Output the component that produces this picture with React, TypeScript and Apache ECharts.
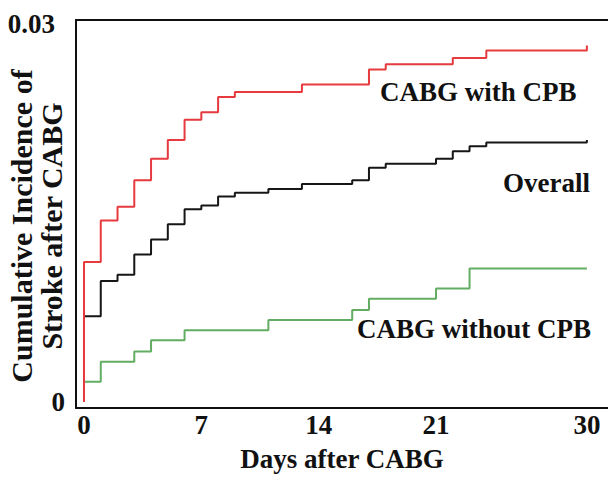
import React, { useEffect, useRef } from "react";
import * as echarts from "echarts";

// Days after CABG at which each cumulative incidence step occurs
const withCpbDays = [0, 0, 1, 2, 3, 4, 5, 6, 7, 8, 9, 13, 17, 18, 22, 24, 30];
const withCpbValues = [0, 0.0111, 0.0144, 0.0155, 0.0176, 0.0193, 0.0208, 0.0224, 0.023, 0.0242, 0.0246, 0.0252, 0.0264, 0.0268, 0.0273, 0.0279, 0.0283];

const overallDays = [0, 0, 1, 2, 3, 4, 5, 6, 7, 8, 9, 11, 13, 16, 17, 18, 21, 22, 23, 24, 30];
const overallValues = [0, 0.0068, 0.0096, 0.0101, 0.0117, 0.0129, 0.0141, 0.0153, 0.0156, 0.0163, 0.0166, 0.0169, 0.0173, 0.0176, 0.0186, 0.0189, 0.0193, 0.0199, 0.0203, 0.0206, 0.0208];

const withoutCpbDays = [0, 0, 1, 3, 4, 6, 11, 16, 17, 21, 23, 30];
const withoutCpbValues = [0, 0.0016, 0.0032, 0.004, 0.0049, 0.0057, 0.0065, 0.0073, 0.0082, 0.009, 0.0106, 0.0106];

const xTickLabels = [0, 7, 14, 21, 30];
const yTickLabels = [0, 0.03];

const seriesNames = ["CABG with CPB", "Overall", "CABG without CPB"];

const FONT = '"Liberation Serif", "Times New Roman", serif';

function pairs(days: number[], values: number[]) {
  return days.map((d, i) => [d, values[i]]);
}

export default function App() {
  const ref = useRef<HTMLDivElement>(null);

  useEffect(() => {
    if (!ref.current) return;
    const chart = echarts.init(ref.current, undefined, { renderer: "svg" });
    const axisLineStyle = { color: "#111", width: 2 };
    const lineSeries = (name: string, data: number[][], color: string, z: number) => ({
      name,
      type: "line",
      step: "end",
      data,
      showSymbol: false,
      symbol: "none",
      xAxisIndex: 0,
      yAxisIndex: 0,
      z,
      lineStyle: { color, width: 2 },
      itemStyle: { color },
    });
    chart.setOption({
      animation: false,
      backgroundColor: "#ffffff",
      grid: { left: 76, right: 0, top: 20, bottom: 69, containLabel: false, outerBoundsMode: "none" },
      xAxis: [
        {
          type: "value",
          min: -0.477,
          max: 31.26,
          axisLine: { show: true, onZero: false, lineStyle: axisLineStyle },
          axisTick: { show: false },
          splitLine: { show: false },
          axisLabel: {
            customValues: xTickLabels,
            fontFamily: FONT,
            fontSize: 27,
            fontWeight: "bold",
            color: "#111",
            margin: 3,
          },
          name: "Days after CABG",
          nameLocation: "middle",
          nameGap: 37,
          nameMoveOverlap: false,
          nameTextStyle: { fontFamily: FONT, fontSize: 27, fontWeight: "bold", color: "#111" },
        },
        {
          type: "value",
          position: "top",
          min: -0.477,
          max: 31.26,
          axisLine: { show: true, onZero: false, lineStyle: axisLineStyle },
          axisTick: { show: false },
          axisLabel: { show: false },
          splitLine: { show: false },
        },
      ],
      yAxis: {
        type: "value",
        min: -0.00048,
        max: 0.03032,
        axisLine: { show: true, onZero: false, lineStyle: axisLineStyle },
        axisTick: { show: false },
        splitLine: { show: false },
        axisLabel: {
          customValues: yTickLabels,
          formatter: (v: number) => (Math.abs(v) < 1e-6 ? "0" : "{p|0.03}"),
          fontFamily: FONT,
          fontSize: 27,
          fontWeight: "bold",
          color: "#111",
          margin: 11,
          rich: {
            p: { fontFamily: FONT, fontSize: 27, fontWeight: "bold", color: "#111", padding: [0, 10, 0, 0] },
          },
        },
        name: "Cumulative Incidence of\nStroke after CABG",
        nameLocation: "middle",
        nameRotate: 90,
        nameGap: 10,
        nameMoveOverlap: false,
        nameTextStyle: {
          fontFamily: FONT,
          fontSize: 30,
          lineHeight: 30,
          fontWeight: "bold",
          color: "#111",
          padding: [0, 24, 0, 0],
        },
      },
      series: [
        lineSeries(seriesNames[1], pairs(overallDays, overallValues), "#161616", 2),
        lineSeries(seriesNames[2], pairs(withoutCpbDays, withoutCpbValues), "#62ad62", 3),
        lineSeries(seriesNames[0], pairs(withCpbDays, withCpbValues), "#e63a3f", 4),
      ],
      graphic: [
        {
          type: "text",
          x: 380,
          y: 92,
          style: { text: seriesNames[0], font: `bold 27px ${FONT}`, fill: "#111", align: "left", verticalAlign: "middle" },
        },
        {
          type: "text",
          x: 590,
          y: 183,
          style: { text: seriesNames[1], font: `bold 27px ${FONT}`, fill: "#111", align: "right", verticalAlign: "middle" },
        },
        {
          type: "text",
          x: 357,
          y: 329,
          style: { text: seriesNames[2], font: `bold 27px ${FONT}`, fill: "#111", align: "left", verticalAlign: "middle" },
        },
      ],
    });
    return () => chart.dispose();
  }, []);

  return (
    <div
      ref={ref}
      style={{ position: "absolute", left: 0, top: 0, width: 608, height: 477, background: "#fff" }}
    />
  );
}
